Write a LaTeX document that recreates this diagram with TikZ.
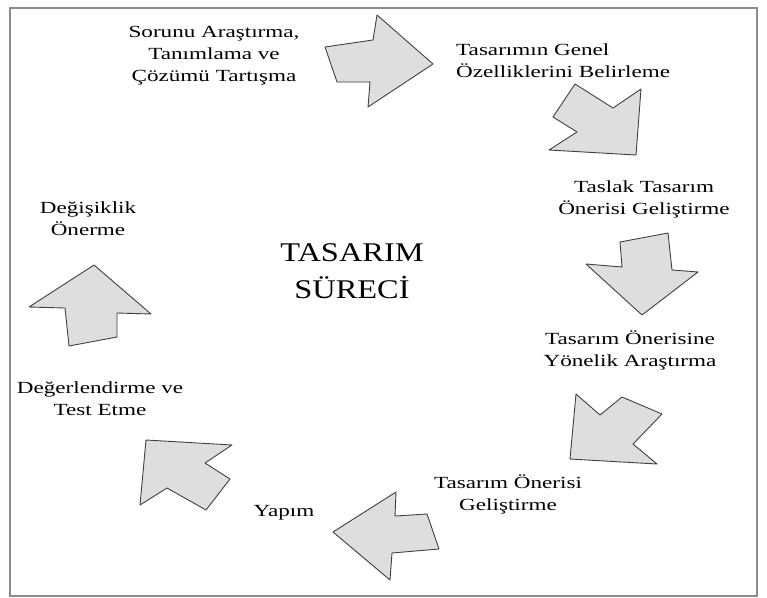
\documentclass[tikz,border=0pt]{standalone}
\usepackage{fontspec}
\setmainfont{Liberation Serif}
\newfontfamily\etiket{Liberation Serif}[FakeStretch=1.36]
\newfontfamily\baslik{Liberation Serif}[FakeStretch=1.2]
\usepackage{tikz}

\tikzset{
  adim/.style={font=\etiket\fontsize{17}{22}\selectfont, align=center, inner sep=0pt},
  ok/.style={draw=black!75, fill=black!13, line width=0.9pt, line join=round},
}

\begin{document}
\begin{tikzpicture}[x=1pt, y=-1pt]
      %\draw [dotted] (0,0) grid[step=50] (767,597);
      \useasboundingbox (0,0) rectangle (767,597);
      \draw [black!45, line width=1.4pt] (10,8) rectangle (757,596);

      % basliklar
      \node [font=\baslik\fontsize{27}{37}\selectfont, align=center, inner sep=0pt]
                            (t) at (352, 271) {TASARIM\\SÜRECİ};
      \node [adim]         (s1) at (214,  56) {Sorunu Araştırma,\\Tanımlama ve\\Çözümü Tartışma};
      \node [adim, align=left, anchor=west]
                           (s2) at (456,  61) {Tasarımın Genel\\Özelliklerini Belirleme};
      \node [adim]         (s3) at (644, 199) {Taslak Tasarım\\Önerisi Geliştirme};
      \node [adim]         (s4) at (630, 350) {Tasarım Önerisine\\Yönelik Araştırma};
      \node [adim]         (s5) at (508, 494) {Tasarım Önerisi\\Geliştirme};
      \node [adim]         (s6) at (284, 513) {Yapım};
      \node [adim]         (s7) at (100, 399) {Değerlendirme ve\\Test Etme};
      \node [adim]         (s8) at ( 88, 219) {Değişiklik\\Önerme};

      % oklar
      \draw [ok] (325, 47) -- (373, 40) -- (377, 15) -- (433, 64) -- (368,107) -- (370, 82) -- (337, 82) -- cycle;
      \draw [ok] (575, 84) -- (613,108) -- (641, 89) -- (636,155) -- (549,150) -- (577,132) -- (553,117) -- cycle;
      \draw [ok] (620,242) -- (668,233) -- (672,270) -- (698,272) -- (642,315) -- (586,264) -- (622,267) -- cycle;
      \draw [ok] (576,394) -- (600,415) -- (622,397) -- (662,414) -- (633,444) -- (657,464) -- (570,459) -- cycle;
      \draw [ok] (396,492) -- (395,516) -- (427,514) -- (439,549) -- (392,553) -- (390,580) -- (333,532) -- cycle;
      \draw [ok] (146,440) -- (232,445) -- (205,463) -- (230,479) -- (206,510) -- (167,488) -- (140,505) -- cycle;
      \draw [ok] ( 94,265) -- (151,314) -- (117,313) -- (117,337) -- ( 69,346) -- ( 65,308) -- ( 29,307) -- cycle;
\end{tikzpicture}
\end{document}
